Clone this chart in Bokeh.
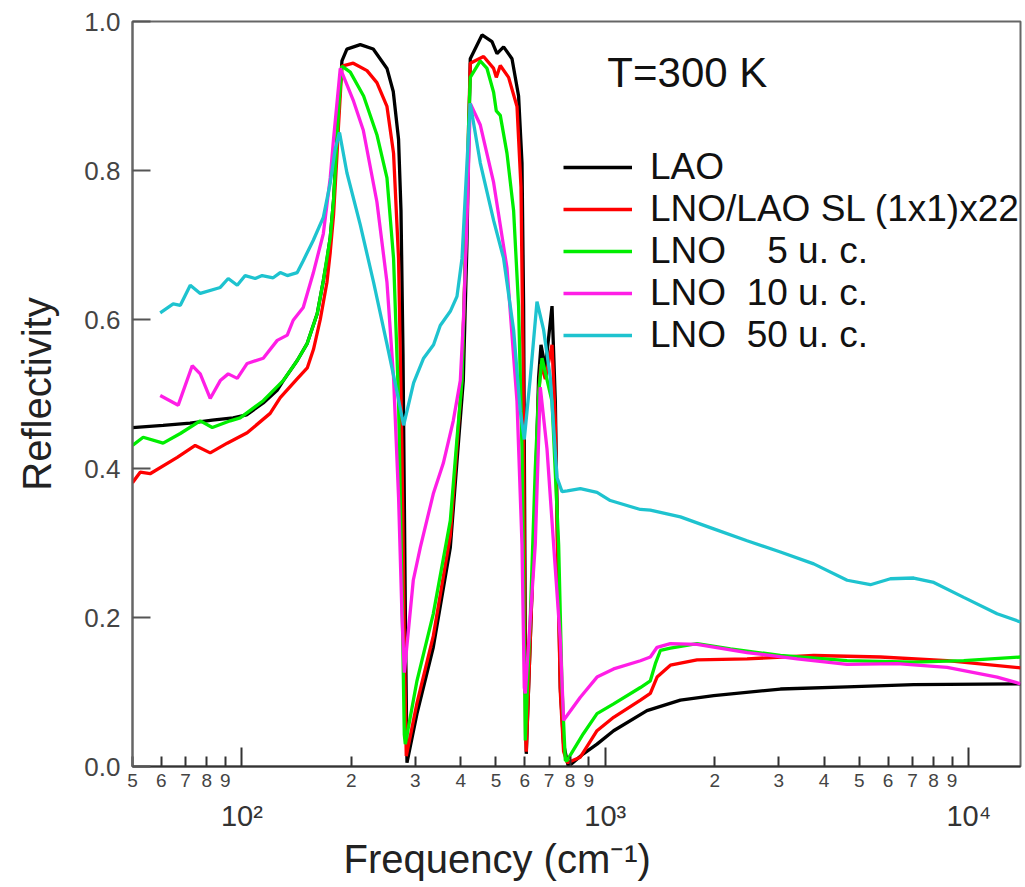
from bokeh.plotting import figure
from bokeh.models import (Range1d, FixedTicker, LogAxis, Legend, LegendItem, Label, Title,
                          PrintfTickFormatter)
from bokeh.embed import file_html
from bokeh.resources import INLINE

# ---------------- data ----------------
freq_lao = [50, 60.7, 72, 82.9, 94.6, 103, 114.5, 125, 130, 142, 151.3, 161.2, 167.5, 171.4, 175,
            178.7, 182.6, 185, 188.5, 194.5, 211.7, 229.8, 250.7, 260.9, 269.8, 274, 277.5, 279.8,
            282.1, 284.6, 303.2, 336.2, 374.5, 390.7, 406.6, 416, 421, 425, 457.8, 487.7, 503.4,
            524.9, 553.6, 577.2, 589.8, 595.8, 599.5, 603.4, 606, 621.6, 641.6, 655.2, 665.3, 683.8,
            713.4, 728.5, 739.1, 751.8, 767.7, 790.9, 870, 948.7, 1054, 1302, 1609, 1987, 3032,
            4628, 7056, 13880]
r_lao = [0.455, 0.458, 0.461, 0.465, 0.468, 0.472, 0.488, 0.505, 0.518, 0.545, 0.568, 0.608, 0.652,
         0.68, 0.71, 0.76, 0.84, 0.89, 0.947, 0.963, 0.969, 0.963, 0.937, 0.906, 0.842, 0.746, 0.554,
         0.362, 0.17, 0.005, 0.071, 0.16, 0.294, 0.41, 0.518, 0.7, 0.84, 0.95, 0.982, 0.973, 0.957,
         0.966, 0.95, 0.9, 0.81, 0.618, 0.362, 0.106, 0.017, 0.17, 0.362, 0.522, 0.566, 0.535, 0.618,
         0.49, 0.298, 0.106, 0.03, 0.0, 0.017, 0.03, 0.048, 0.075, 0.089, 0.095, 0.104, 0.107, 0.11,
         0.111]

freq_sl = [50, 52.5, 55.9, 66.4, 74.4, 81.8, 91.1, 103.4, 119.6, 127.5, 141.7, 151.3, 157.4, 164.3,
           171.4, 175, 178.7, 182.6, 184.4, 188.5, 202.5, 220.9, 235.2, 250.7, 261.4, 269.8, 275.7,
           279.8, 283.3, 303.2, 336.2, 374.5, 390.7, 403, 414, 420.5, 425, 462.4, 492.7, 501.2, 514,
           541.8, 571.4, 586, 593.5, 598.4, 603.4, 606, 621.6, 641.6, 655.2, 665.3, 683.8, 713.4,
           728.5, 739.1, 751.8, 767.7, 786, 853.5, 948.7, 1054, 1249, 1330, 1388, 1510, 1788, 2455,
           3745, 5715, 8720, 13880]
r_sl = [0.381, 0.395, 0.393, 0.415, 0.431, 0.421, 0.434, 0.448, 0.474, 0.495, 0.52, 0.535, 0.56, 0.6,
        0.65, 0.69, 0.74, 0.82, 0.86, 0.94, 0.944, 0.934, 0.918, 0.886, 0.823, 0.682, 0.426, 0.17,
        0.014, 0.085, 0.175, 0.31, 0.43, 0.52, 0.72, 0.86, 0.944, 0.953, 0.937, 0.925, 0.941, 0.925,
        0.886, 0.778, 0.554, 0.298, 0.043, 0.02, 0.17, 0.36, 0.5, 0.54, 0.52, 0.566, 0.46, 0.28, 0.1,
        0.02, 0.005, 0.0125, 0.048, 0.066, 0.089, 0.098, 0.12, 0.136, 0.143, 0.1445, 0.149, 0.147,
        0.142, 0.1325]

freq_5 = [50, 53.5, 60.7, 67.7, 76.8, 82.9, 92.9, 98.9, 114.5, 129.9, 142, 151.3, 161.2, 167.5, 175,
          178.7, 182.6, 185, 188.5, 198.7, 216.2, 235.2, 250.7, 261.4, 269.8, 275.7, 279.8, 281.6,
          303.2, 336.2, 374.5, 390.7, 403.3, 414, 420.5, 425, 452.9, 472.5, 492.7, 501.2, 514, 536.3,
          559.3, 577.2, 589.8, 598.4, 602.2, 621.6, 641.6, 655.2, 669.6, 713.4, 743.9, 760, 776.1,
          784.3, 870, 948.7, 1054, 1249, 1330, 1373, 1418, 1510, 1788, 2209, 3032, 4628, 7056, 9688,
          13880]
r_5 = [0.431, 0.442, 0.434, 0.447, 0.464, 0.455, 0.464, 0.468, 0.491, 0.518, 0.545, 0.568, 0.608,
       0.652, 0.71, 0.76, 0.84, 0.89, 0.94, 0.932, 0.9, 0.848, 0.79, 0.682, 0.49, 0.235, 0.043, 0.03,
       0.115, 0.205, 0.33, 0.44, 0.518, 0.72, 0.86, 0.925, 0.947, 0.937, 0.905, 0.88, 0.874, 0.823,
       0.746, 0.618, 0.426, 0.17, 0.035, 0.2, 0.4, 0.5, 0.548, 0.49, 0.298, 0.106, 0.008, 0.008,
       0.044, 0.071, 0.084, 0.106, 0.115, 0.138, 0.156, 0.159, 0.165, 0.158, 0.149, 0.142, 0.14,
       0.142, 0.147]

freq_10 = [59.6, 66.8, 73, 76.8, 81.8, 87.2, 91.7, 97.1, 103.4, 114.5, 125.1, 133.3, 138.4, 147.5,
           157.1, 167.5, 175, 178.7, 186.5, 202.9, 215.8, 235.2, 250.7, 261.4, 269.8, 275.7, 279.8,
           296.2, 309.7, 336.2, 358.2, 381.6, 399, 407, 416.2, 425, 452.9, 492.7, 536.3, 571.4,
           589.8, 598.4, 602.2, 641.6, 662.3, 691.1, 720.6, 751.8, 767.7, 853.5, 948.7, 1054, 1249,
           1330, 1388, 1510, 1788, 2455, 3371, 4628, 6353, 8720, 11970, 13880]
r_10 = [0.498, 0.485, 0.538, 0.527, 0.494, 0.518, 0.527, 0.521, 0.541, 0.548, 0.572, 0.579, 0.599,
        0.616, 0.662, 0.715, 0.79, 0.842, 0.937, 0.893, 0.854, 0.758, 0.65, 0.522, 0.362, 0.203,
        0.126, 0.25, 0.294, 0.366, 0.407, 0.464, 0.518, 0.6, 0.733, 0.89, 0.861, 0.784, 0.669, 0.49,
        0.298, 0.106, 0.098, 0.298, 0.509, 0.426, 0.298, 0.17, 0.062, 0.093, 0.12, 0.131, 0.142,
        0.147, 0.16, 0.165, 0.164, 0.153, 0.1445, 0.137, 0.138, 0.133, 0.12, 0.111]

freq_50 = [59.6, 64.7, 67.7, 72.1, 76.8, 87.2, 91.7, 97.1, 102.1, 108.8, 113.7, 121.9, 127.5, 133.3,
           142, 147.5, 157.1, 167.5, 175, 180.6, 185.6, 194.5, 211.7, 230.3, 250.7, 267.1, 278.6,
           296.8, 316.2, 336.8, 351.4, 374.5, 390.7, 403.3, 416.2, 425, 452.9, 492.7, 524.9, 559.3,
           583.5, 598.4, 621.6, 648.6, 676.4, 705.7, 736.2, 760, 786, 853.5, 948.7, 1032, 1249, 1330,
           1609, 1987, 2455, 3032, 3745, 4628, 5363, 6089, 7056, 8012, 9688, 11970, 13880]
r_50 = [0.609, 0.621, 0.619, 0.646, 0.635, 0.643, 0.655, 0.646, 0.659, 0.655, 0.659, 0.656, 0.663,
        0.659, 0.663, 0.679, 0.706, 0.737, 0.783, 0.829, 0.851, 0.797, 0.727, 0.65, 0.567, 0.503,
        0.458, 0.515, 0.548, 0.566, 0.592, 0.611, 0.631, 0.682, 0.81, 0.89, 0.81, 0.733, 0.682,
        0.586, 0.477, 0.439, 0.522, 0.624, 0.586, 0.522, 0.388, 0.369, 0.37, 0.373, 0.368, 0.357,
        0.345, 0.344, 0.335, 0.319, 0.303, 0.288, 0.272, 0.25, 0.244, 0.252, 0.253, 0.247, 0.227,
        0.205, 0.194]

series_labels = ["LAO", "LNO/LAO SL (1x1)x22", "LNO    5 u. c.", "LNO  10 u. c.", "LNO  50 u. c."]
series_colors = ["#000000", "#ff0000", "#00ee00", "#ff1ee6", "#1ec3cf"]

xtick_values = [50, 60, 70, 80, 90, 200, 300, 400, 500, 600, 700, 800, 900,
                2000, 3000, 4000, 5000, 6000, 7000, 8000, 9000]
xtick_labels = ["5", "6", "7", "8", "9", "2", "3", "4", "5", "6", "7", "8", "9",
                "2", "3", "4", "5", "6", "7", "8", "9"]
decade_values = [100, 1000, 10000]
decade_labels = ["10\u00b2", "10\u00b3", "10\u2074"]
ytick_values = [0.0, 0.2, 0.4, 0.6, 0.8, 1.0]

FONT = "Liberation Sans"

# ---------------- figure ----------------
p = figure(width=1024, height=885, x_axis_type="log",
           x_range=Range1d(50, 13880), y_range=Range1d(0, 1.0),
           output_backend="svg", toolbar_location=None,
           min_border_left=132, min_border_right=4, min_border_top=21, min_border_bottom=119)
p.xgrid.grid_line_color = None
p.ygrid.grid_line_color = None
p.outline_line_color = "#666666"
p.outline_line_width = 2
p.background_fill_color = "white"
p.border_fill_color = "white"

# lower x axis: digit labels, small ticks; decade ticks longer (minor ticks)
xa = p.xaxis[0]
xa.ticker = FixedTicker(ticks=xtick_values, minor_ticks=decade_values)
xa.major_label_overrides = {v: l for v, l in zip(xtick_values, xtick_labels)}
xa.major_tick_in = 10
xa.major_tick_out = 0
xa.minor_tick_in = 19
xa.minor_tick_out = 0
xa.major_tick_line_width = 2
xa.minor_tick_line_width = 2
xa.major_tick_line_color = "#333333"
xa.minor_tick_line_color = "#333333"
xa.axis_line_color = "#333333"
xa.axis_line_width = 2
xa.major_label_standoff = 7
xa.major_label_text_font = FONT
xa.major_label_text_font_size = "19px"
xa.major_label_text_color = "#444444"

# second row: decade labels
xb = LogAxis(ticker=FixedTicker(ticks=decade_values, minor_ticks=[]),
             major_label_overrides={v: l for v, l in zip(decade_values, decade_labels)},
             axis_line_color=None, major_tick_line_color=None, minor_tick_line_color=None,
             major_tick_in=0, major_tick_out=0, major_label_standoff=10,
             major_label_text_font=FONT, major_label_text_font_size="29px",
             major_label_text_color="#333333")
p.add_layout(xb, "below")

# x axis title (placed left of centre, as in the original)
p.add_layout(Title(text="Frequency (cm\u207b\u00b9)", align="left", offset=211,
                   text_font=FONT, text_font_size="40px", text_font_style="normal",
                   text_color="#222222", standoff=0), "below")

# y axis
ya = p.yaxis[0]
ya.ticker = FixedTicker(ticks=ytick_values, minor_ticks=[])
ya.formatter = PrintfTickFormatter(format="%.1f")
ya.major_tick_in = 18
ya.major_tick_out = 0
ya.major_tick_line_width = 2
ya.major_tick_line_color = "#555555"
ya.axis_line_color = "#666666"
ya.axis_line_width = 2
ya.major_label_standoff = 12
ya.major_label_text_font = FONT
ya.major_label_text_font_size = "26px"
ya.major_label_text_color = "#444444"
ya.axis_label = "Reflectivity"
ya.axis_label_text_font = FONT
ya.axis_label_text_font_size = "40px"
ya.axis_label_text_font_style = "normal"
ya.axis_label_text_color = "#222222"
ya.axis_label_standoff = 22

# ---------------- curves ----------------
all_freq = [freq_lao, freq_sl, freq_5, freq_10, freq_50]
all_r = [r_lao, r_sl, r_5, r_10, r_50]
items = []
for f, r, lab, col in zip(all_freq, all_r, series_labels, series_colors):
    rend = p.line(f, r, line_color=col, line_width=3.3)
    items.append(LegendItem(label=lab, renderers=[rend]))

legend = Legend(items=items, location=(431, 410), border_line_color=None,
                background_fill_alpha=0, label_text_font=FONT, label_text_font_size="37px",
                label_text_color="#111111", glyph_width=69, glyph_height=42, label_height=42,
                spacing=0, padding=0, margin=0, label_standoff=18)
p.add_layout(legend)

p.add_layout(Label(x=1013, y=0.932, text="T=300 K", text_font=FONT, text_font_size="42px",
                   text_baseline="middle", text_color="#111111"))

open("out.html", "w").write(file_html(p, INLINE))
